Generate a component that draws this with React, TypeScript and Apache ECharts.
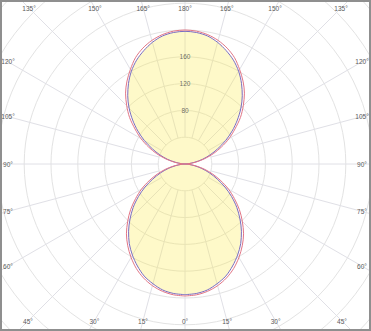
import React, { useEffect, useRef } from 'react';
import * as echarts from 'echarts';

// Luminous intensity, read every 5° from 0° (nadir, bottom) to 180° (zenith, top)
const angleStep = 5;
const planeAValues = [
  195, 194, 191, 185, 178, 168, 157, 145, 131, 116, 101, 85, 69, 53, 39, 26, 14, 5, 0,
  5, 14, 27, 40, 54, 70, 86, 102, 118, 133, 147, 160, 171, 180, 188, 194, 197, 198,
];
const planeBValues = [
  197, 196, 193, 188, 181, 172, 161, 149, 136, 121, 106, 90, 75, 59, 44, 30, 17, 6, 0,
  6, 17, 30, 45, 60, 76, 91, 108, 123, 138, 151, 163, 175, 184, 191, 196, 199, 200,
];
const radiusTickLabels = [80, 120, 160];
const spokeAngles = Array.from({ length: 24 }, (_, i) => i * 15);

const W = 371;
const H = 331;
const CX = 185;
const CY = 164;
const RMAX = 400;
const RPX = 268;

function fullCurve(vals: number[]): number[][] {
  const pts: number[][] = [];
  for (let i = 0; i < vals.length; i++) pts.push([vals[i], i * angleStep]);
  for (let i = vals.length - 2; i >= 0; i--) pts.push([vals[i], 360 - i * angleStep]);
  return pts;
}

function angleLabelGraphics() {
  const hx = 177;
  const hyTop = 156;
  const hyBot = 157;
  return spokeAngles.map((a) => {
    const rad = (a * Math.PI) / 180;
    const dx = -Math.sin(rad);
    const dy = Math.cos(rad);
    const hy = dy > 0 ? hyBot : hyTop;
    const tx = Math.abs(dx) < 1e-9 ? Infinity : hx / Math.abs(dx);
    const ty = Math.abs(dy) < 1e-9 ? Infinity : hy / Math.abs(dy);
    const t = Math.min(tx, ty);
    const shown = a <= 180 ? a : 360 - a;
    return {
      type: 'text',
      x: CX + dx * t,
      y: CY + dy * t,
      z: 10,
      style: {
        text: shown + '°',
        fill: '#5a5a5a',
        font: '6.5px "Liberation Sans", Arial, sans-serif',
        align: 'center',
        verticalAlign: 'middle',
      },
    };
  });
}

export default function App() {
  const ref = useRef<HTMLDivElement>(null);
  useEffect(() => {
    if (!ref.current) return;
    const chart = echarts.init(ref.current, null, { renderer: 'svg' });
    chart.setOption({
      animation: false,
      backgroundColor: '#ffffff',
      polar: { center: [CX, CY], radius: RPX },
      angleAxis: {
        type: 'value',
        min: 0,
        max: 360,
        interval: 15,
        startAngle: 270,
        clockwise: true,
        axisLine: { show: false },
        axisTick: { show: false },
        axisLabel: { show: false },
        splitLine: { show: false },
      },
      radiusAxis: {
        type: 'value',
        min: 0,
        max: RMAX,
        interval: 40,
        axisLine: { show: false },
        axisTick: { show: false },
        axisLabel: { show: false },
        splitLine: { show: true, lineStyle: { color: '#e3e3e3', width: 1 } },
      },
      series: [
        {
          type: 'custom',
          coordinateSystem: 'polar',
          z: 1,
          silent: true,
          data: spokeAngles.map((a) => [RMAX, a]),
          renderItem: (params: any, api: any) => {
            const a = api.value(1);
            const p0 = api.coord([40, a]);
            const p1 = api.coord([RMAX, a]);
            return {
              type: 'line',
              shape: { x1: p0[0], y1: p0[1], x2: p1[0], y2: p1[1] },
              style: { stroke: '#e0e0e6', lineWidth: 1 },
            };
          },
        },
        {
          name: 'C0-C180',
          type: 'line',
          coordinateSystem: 'polar',
          z: 3,
          showSymbol: false,
          smooth: 0.3,
          data: fullCurve(planeAValues),
          lineStyle: { color: '#7a6cc0', width: 1 },
          areaStyle: { color: 'rgba(250,235,70,0.42)' },
        },
        {
          name: 'C90-C270',
          type: 'line',
          coordinateSystem: 'polar',
          z: 4,
          showSymbol: false,
          smooth: 0.3,
          data: fullCurve(planeBValues),
          lineStyle: { color: '#e27585', width: 1 },
        },
        {
          type: 'scatter',
          coordinateSystem: 'polar',
          z: 6,
          symbolSize: 0,
          silent: true,
          data: radiusTickLabels.map((r) => [r, 180]),
          label: {
            show: true,
            position: 'inside',
            formatter: (p: any) => String(p.value[0]),
            color: '#4a4a4a',
            fontSize: 6.5,
            fontFamily: '"Liberation Sans", Arial, sans-serif',
          },
        },
      ],
      graphic: [
        ...angleLabelGraphics(),
        {
          type: 'rect',
          z: 20,
          shape: { x: 1, y: 1, width: W - 2, height: H - 2 },
          style: { fill: 'none', stroke: '#8f8f8f', lineWidth: 2 },
        },
      ],
    });
    return () => chart.dispose();
  }, []);
  return (
    <div
      ref={ref}
      style={{ position: 'absolute', left: 0, top: 0, width: W, height: H }}
    />
  );
}
